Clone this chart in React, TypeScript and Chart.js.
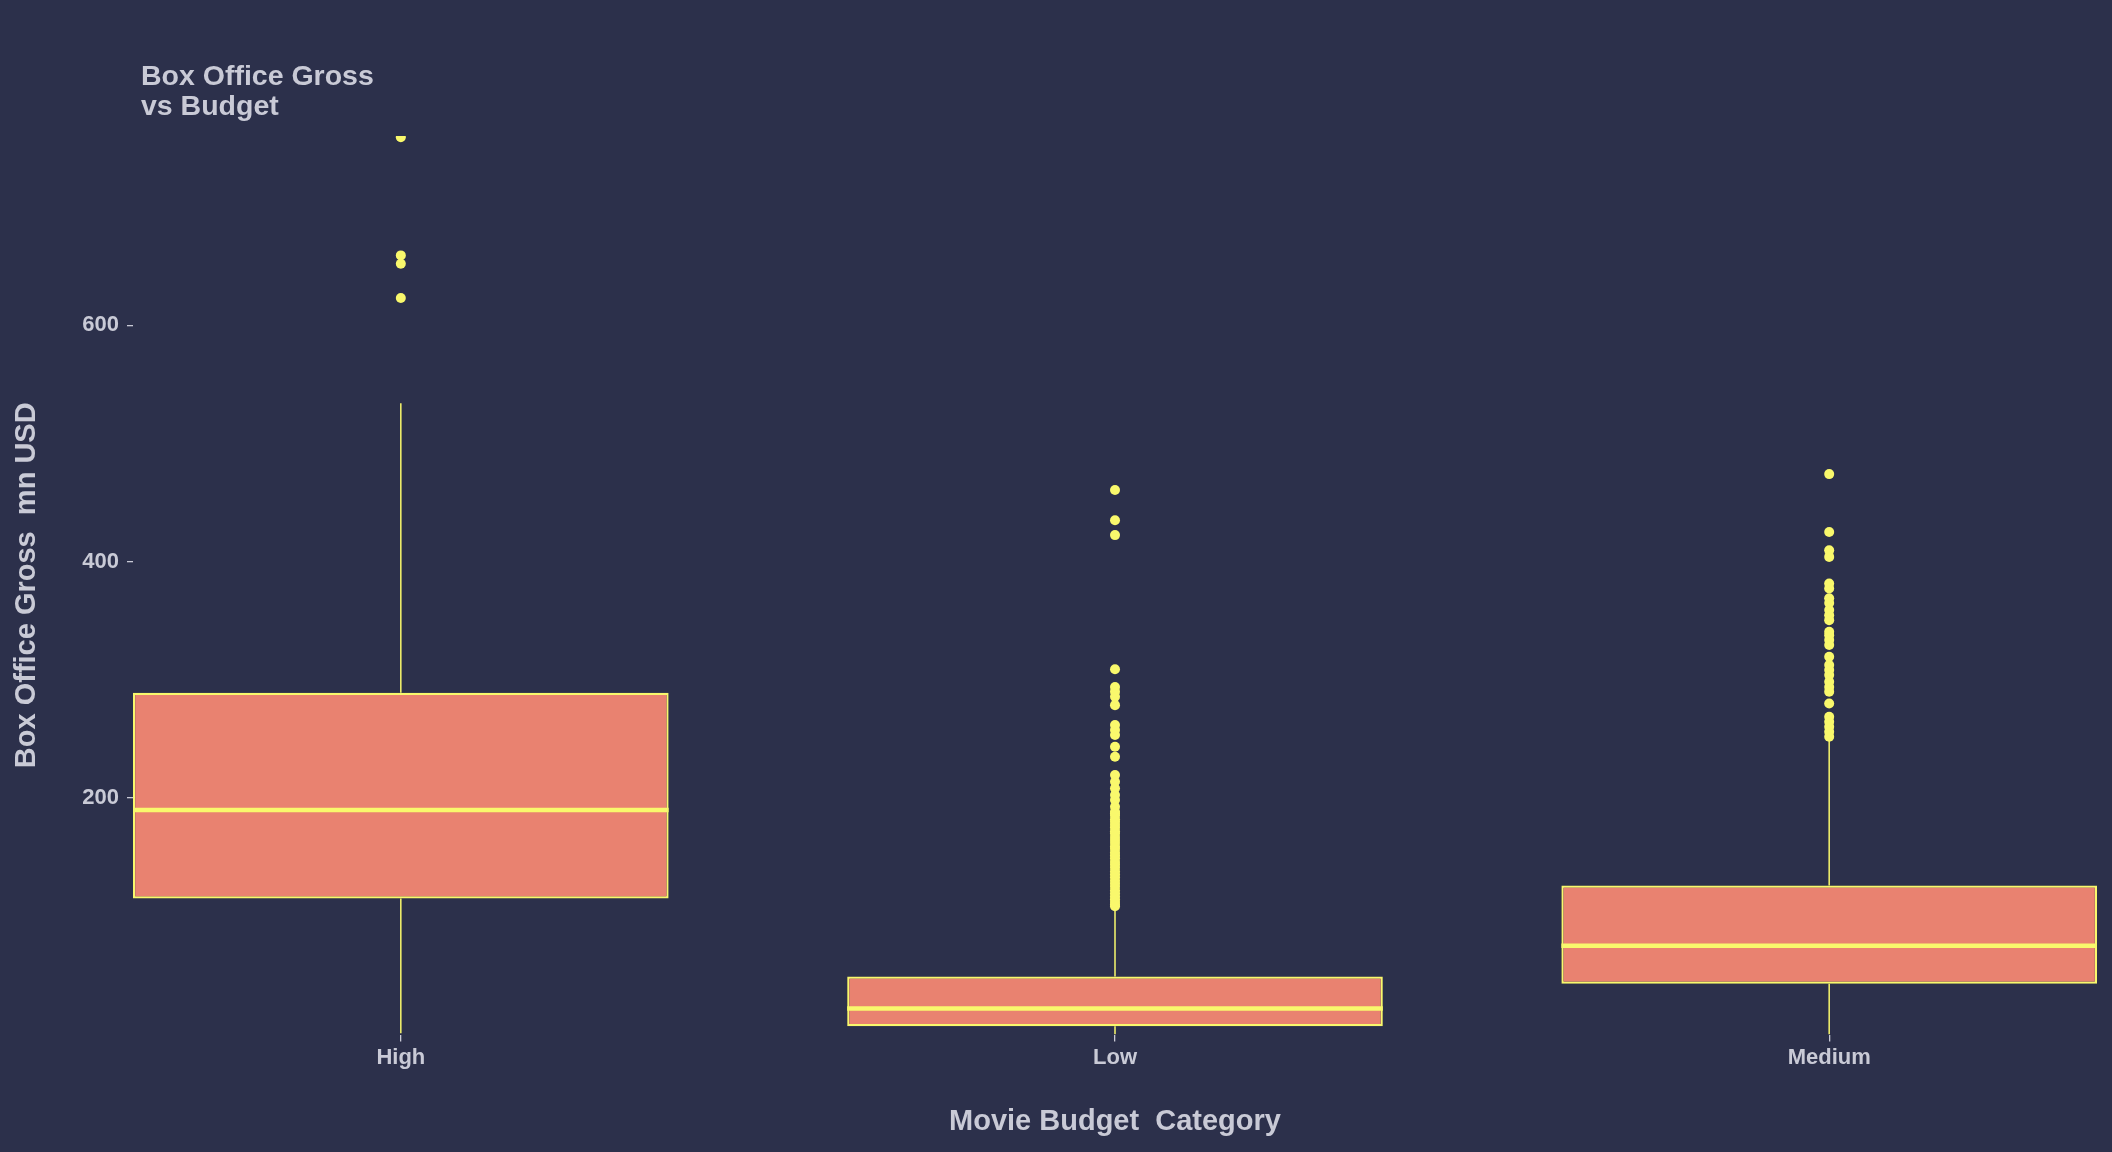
import React, { useEffect, useRef } from "react";
import { Chart, registerables } from "chart.js";

Chart.register(...registerables);

const categories = ["High", "Low", "Medium"];
const q1 = [115, 7, 43];
const medians = [190, 22, 75];
const q3 = [289, 49, 126];
const whiskerLow = [1, 0, 0];
const whiskerHigh = [534, 107, 249];
const outliersHigh = [759, 659, 652, 623];
const outliersLow = [
  460.5, 435, 422.4, 309, 294, 290, 285.7, 278.6, 261.7, 257.5, 253.4, 243.4, 235, 219.5,
  213.8, 208.2, 202.5, 198.3, 192.6, 188.4, 187, 185, 182, 180, 177.5, 175, 172, 170, 167,
  164.5, 162, 159, 157, 154, 151.5, 149, 146, 143.5, 141, 138, 135.5, 133, 130, 127.5, 125,
  122, 119.5, 117, 114.5, 112, 110, 108.5,
];
const outliersMedium = [
  474, 425, 409.5, 404, 381.5, 377.3, 369, 365, 359, 354.6, 350.5, 340.6, 337.8, 333.6,
  329.4, 319.5, 312.5, 308.3, 304, 298.4, 294, 290, 280, 268.8, 264.5, 260.3, 256, 251.8,
];
const outliers = [outliersHigh, outliersLow, outliersMedium];
const yTicks = [200, 400, 600];
const titleLines = ["Box Office Gross", "vs Budget"];
const xTitle = "Movie Budget  Category";
const yTitle = "Box Office Gross  mn USD";

const BG = "#2c304b";
const FILL = "#e98270";
const YELLOW = "#f9f86c";
const TEXT = "#c9cad6";
const FONT = "'Liberation Sans', Arial, sans-serif";
const HALF = 0.375;

export default function App() {
  const ref = useRef<HTMLCanvasElement | null>(null);

  useEffect(() => {
    document.body.style.margin = "0";
    document.body.style.background = BG;
    const canvas = ref.current;
    if (!canvas) return;

    const boxData = categories.map((_, i) => ({ x: i, y: [q1[i], q3[i]] }));
    const whiskerData: any[] = [];
    categories.forEach((_, i) => {
      whiskerData.push({ x: i, y: whiskerLow[i] }, { x: i, y: q1[i] }, { x: i, y: null });
      whiskerData.push({ x: i, y: q3[i] }, { x: i, y: whiskerHigh[i] }, { x: i, y: null });
    });
    const medianData: any[] = [];
    categories.forEach((_, i) => {
      medianData.push({ x: i - HALF, y: medians[i] }, { x: i + HALF, y: medians[i] }, { x: i, y: null });
    });
    const outlierData: any[] = [];
    outliers.forEach((arr, i) => arr.forEach((v) => outlierData.push({ x: i, y: v })));

    const titlePlugin = {
      id: "plotTitle",
      afterDraw(chart: any) {
        const ctx = chart.ctx;
        ctx.save();
        ctx.font = `bold 28.5px ${FONT}`;
        ctx.fillStyle = TEXT;
        ctx.textAlign = "left";
        ctx.textBaseline = "alphabetic";
        ctx.fillText(titleLines[0], 141, 85);
        ctx.fillText(titleLines[1], 141, 115);
        ctx.restore();
      },
    };
    const bgPlugin = {
      id: "bg",
      beforeDraw(chart: any) {
        const ctx = chart.ctx;
        ctx.save();
        ctx.fillStyle = BG;
        ctx.fillRect(0, 0, chart.width, chart.height);
        ctx.restore();
      },
    };

    const chart = new Chart(canvas, {
      type: "bar",
      data: {
        datasets: [
          {
            type: "scatter",
            data: outlierData,
            backgroundColor: YELLOW,
            borderWidth: 0,
            pointRadius: 5,
            pointHoverRadius: 5,
            clip: 0,
            order: 0,
          } as any,
          {
            type: "line",
            data: medianData,
            borderColor: YELLOW,
            borderWidth: 4.5,
            pointRadius: 0,
            spanGaps: false,
            borderCapStyle: "butt",
            order: 1,
          } as any,
          {
            type: "line",
            data: whiskerData,
            borderColor: YELLOW,
            borderWidth: 1.5,
            pointRadius: 0,
            spanGaps: false,
            order: 2,
          } as any,
          {
            type: "bar",
            data: boxData,
            backgroundColor: FILL,
            borderColor: YELLOW,
            borderWidth: 2.2,
            borderSkipped: false,
            barPercentage: 0.75,
            categoryPercentage: 1,
            order: 3,
          } as any,
        ],
      },
      options: {
        responsive: false,
        animation: false,
        devicePixelRatio: 1,
        layout: { padding: { top: 136, right: 15, bottom: 0, left: 0 } },
        plugins: { legend: { display: false }, tooltip: { enabled: false }, title: { display: false } },
        scales: {
          x: {
            type: "linear",
            min: -HALF,
            max: 2 + HALF,
            offset: false,
            afterBuildTicks: (scale: any) => {
              scale.ticks = categories.map((_, i) => ({ value: i }));
            },
            afterFit: (scale: any) => {
              scale.height = 117.5;
            },
            ticks: {
              autoSkip: false,
              maxRotation: 0,
              padding: 3,
              color: TEXT,
              font: { family: FONT, size: 22, weight: "bold" },
              callback: (v: any) => categories[v as number] ?? "",
            },
            grid: {
              display: true,
              offset: false,
              drawOnChartArea: false,
              drawTicks: true,
              tickLength: 7,
              color: TEXT,
              lineWidth: 1.3,
            },
            border: { display: false },
            title: {
              display: true,
              text: xTitle,
              color: TEXT,
              font: { family: FONT, size: 29, weight: "bold" },
              padding: { top: 0, bottom: 13 },
            },
          },
          y: {
            type: "linear",
            min: 0,
            max: 760,
            afterBuildTicks: (scale: any) => {
              scale.ticks = yTicks.map((v) => ({ value: v }));
            },
            afterFit: (scale: any) => {
              scale.width = 133;
            },
            ticks: {
              padding: 8,
              color: TEXT,
              font: { family: FONT, size: 22, weight: "bold" },
            },
            grid: {
              display: true,
              drawOnChartArea: false,
              drawTicks: true,
              tickLength: 6,
              color: TEXT,
              lineWidth: 1.3,
            },
            border: { display: false },
            title: {
              display: true,
              text: yTitle,
              color: TEXT,
              font: { family: FONT, size: 29, weight: "bold" },
              padding: { top: 10, bottom: 0 },
            },
          },
        },
      },
      plugins: [bgPlugin, titlePlugin],
    } as any);

    return () => chart.destroy();
  }, []);

  return (
    <div style={{ width: 2112, height: 1152, background: BG }}>
      <canvas ref={ref} width={2112} height={1152} style={{ width: 2112, height: 1152, display: "block" }} />
    </div>
  );
}
